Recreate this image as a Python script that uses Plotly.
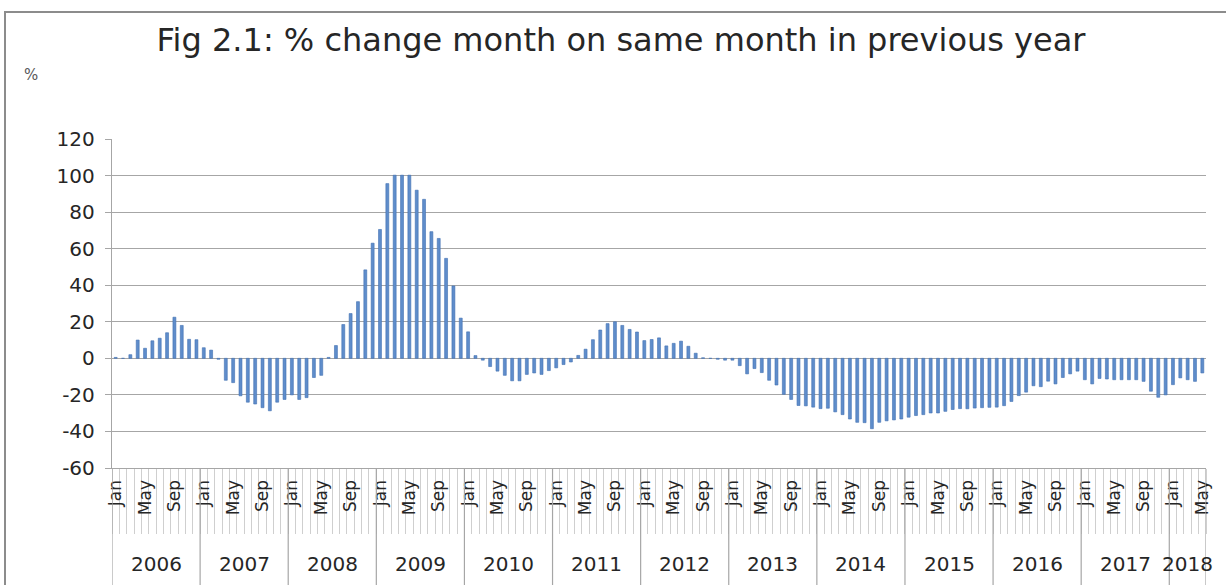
import plotly.graph_objects as go

# ---- data -------------------------------------------------------------
month_names = ["Jan", "Feb", "Mar", "Apr", "May", "Jun",
               "Jul", "Aug", "Sep", "Oct", "Nov", "Dec"]
years = [2006, 2007, 2008, 2009, 2010, 2011, 2012,
         2013, 2014, 2015, 2016, 2017, 2018]
months_in_last_year = 5

pct_change = [
    # 2006
    0.5, 0.0, 2.0, 10.0, 5.5, 9.6, 11.0, 14.0, 22.5, 18.0, 10.4, 10.2,
    # 2007
    5.8, 4.5, -0.5, -12.0, -13.3, -20.5, -24.0, -25.0, -27.0, -28.7, -24.0, -22.5,
    # 2008
    -20.0, -22.5, -21.5, -10.5, -9.3, 0.5, 7.0, 18.5, 24.5, 31.0, 48.4, 63.0,
    # 2009
    70.5, 95.6, 100.2, 100.2, 100.2, 92.0, 87.0, 69.3, 65.6, 54.7, 39.6, 22.0,
    # 2010
    14.5, 1.5, -1.0, -4.5, -7.0, -9.3, -12.3, -12.3, -8.8, -8.0, -8.8, -6.7,
    # 2011
    -5.2, -3.4, -2.0, 1.6, 5.0, 10.2, 15.5, 19.0, 20.0, 18.0, 15.8, 14.4,
    # 2012
    9.7, 10.3, 11.2, 6.8, 8.2, 9.4, 6.6, 2.8, 0.3, 0.0, -0.5, -1.0,
    # 2013
    -1.0, -4.0, -8.5, -5.6, -7.8, -12.0, -14.6, -19.7, -22.5, -25.8, -26.0, -26.7,
    # 2014
    -27.5, -27.3, -29.3, -30.8, -33.2, -35.0, -35.2, -38.5, -35.0, -34.2, -33.7, -33.2,
    # 2015
    -32.2, -31.3, -30.8, -29.9, -29.9, -29.0, -28.0, -27.5, -27.6, -27.2, -27.0, -26.8,
    # 2016
    -26.7, -25.9, -23.6, -20.4, -18.5, -15.0, -15.5, -12.5, -14.0, -10.5, -8.5, -7.0,
    # 2017
    -11.7, -14.0, -11.0, -11.3, -11.7, -11.7, -11.7, -11.7, -12.6, -18.0, -21.3, -20.0,
    # 2018
    -14.4, -10.7, -11.7, -12.6, -8.0,
]

y_ticks = [-60, -40, -20, 0, 20, 40, 60, 80, 100, 120]
title_text = "Fig 2.1: % change month on same month in previous year"
unit_text = "%"

# ---- derived category structure ----------------------------------------
month_labels = []
year_of = []
for yr in years:
    n = months_in_last_year if yr == years[-1] else 12
    for m in range(n):
        month_labels.append(month_names[m])
        year_of.append(yr)
x_idx = list(range(len(pct_change)))
shown_ticks = [i for i in x_idx if month_labels[i] in ("Jan", "May", "Sep")]

FONT = "DejaVu Sans"
W, H = 1226, 585
# plot area in page pixels: x 112..1206, y 139..468
L, T = 112, 139
R = W - 1206
B = H - 468
pw, ph = W - L - R, H - T - B


def px_x(p):
    return (p - L) / pw


def px_y(p):
    return (H - B - p) / ph


fig = go.Figure()
fig.add_trace(go.Bar(
    x=x_idx, y=pct_change, width=0.4,
    marker=dict(color="#5f8dcb", line=dict(color="#4170b2", width=0.6)),
    showlegend=False,
))

shapes = []
first_idx = {}
for i, yr in enumerate(year_of):
    first_idx.setdefault(yr, i)
bounds = [first_idx[yr] - 0.5 for yr in years] + [len(pct_change) - 0.5]
for b in bounds:
    shapes.append(dict(type="line", xref="x", yref="paper", x0=b, x1=b,
                       y0=0, y1=px_y(600), line=dict(color="#a6a6a6", width=1.2)))
shapes.append(dict(type="rect", xref="paper", yref="paper",
                   x0=px_x(5), x1=px_x(1240), y0=px_y(620), y1=px_y(12),
                   line=dict(color="#8c8c8c", width=2), fillcolor="rgba(0,0,0,0)",
                   layer="below"))

annotations = []
for yr in years:
    idx = [i for i, v in enumerate(year_of) if v == yr]
    annotations.append(dict(x=(idx[0] + idx[-1]) / 2, y=px_y(564), xref="x", yref="paper",
                            text=str(yr), showarrow=False, xanchor="center", yanchor="middle",
                            font=dict(family=FONT, size=20, color="#262626")))
annotations.append(dict(x=px_x(31), y=px_y(75), xref="paper", yref="paper", text=unit_text,
                        showarrow=False, xanchor="center", yanchor="middle",
                        font=dict(family=FONT, size=15, color="#595959")))

fig.update_layout(
    width=W, height=H,
    margin=dict(l=L, r=R, t=T, b=B, pad=0),
    paper_bgcolor="white", plot_bgcolor="white",
    bargap=0,
    title=dict(text=title_text, x=621 / W, xanchor="center",
               y=1 - 40 / H, yanchor="middle",
               font=dict(family=FONT, size=32, color="#262626")),
    xaxis=dict(
        range=[-0.5, len(pct_change) - 0.5],
        tickmode="array", tickvals=shown_ticks,
        ticktext=[month_labels[i] for i in shown_ticks],
        tickangle=-90, ticks="", ticklabelstandoff=4,
        tickfont=dict(family=FONT, size=17, color="#262626"),
        showgrid=False, zeroline=False,
        showline=True, linecolor="#a6a6a6", linewidth=1.2,
        minor=dict(tickmode="linear", tick0=-0.5, dtick=1, ticks="outside",
                   ticklen=65, tickcolor="#cfcfcf", tickwidth=1, showgrid=False),
    ),
    yaxis=dict(
        range=[-60, 120], tickmode="array", tickvals=y_ticks,
        ticktext=[str(v) for v in y_ticks],
        ticks="outside", ticklen=6, tickcolor="#a6a6a6",
        tickfont=dict(family=FONT, size=20, color="#262626"),
        showgrid=True, gridcolor="#a6a6a6", gridwidth=1.2,
        zeroline=False, showline=True, linecolor="#a6a6a6", linewidth=1.2,
        ticklabelstandoff=6,
    ),
    shapes=shapes,
    annotations=annotations,
)

fig.write_html("out.html",
               config={"displayModeBar": False, "staticPlot": True},
               post_script="document.body.style.margin='0px';document.body.style.overflow='hidden';")
